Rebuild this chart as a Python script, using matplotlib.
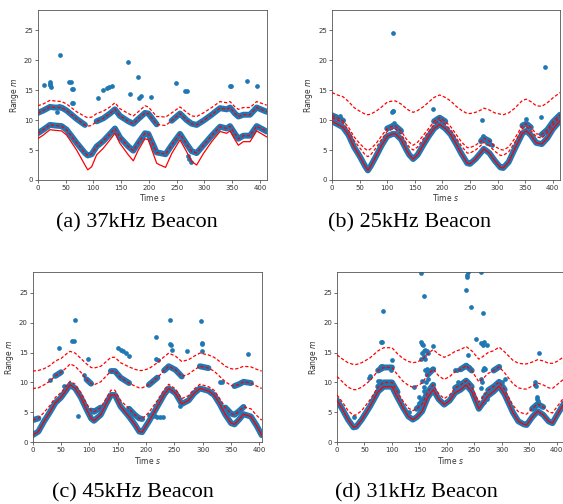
import numpy as np
import matplotlib.pyplot as plt

BLUE = '#1f77b4'

# ---------------- (a) 37kHz Beacon ----------------
a_t = [0, 10, 22, 31, 43, 52, 70, 85, 90, 97, 106, 118, 130, 139, 148, 163, 172, 181, 193, 199,
       214, 220, 230, 241, 256, 268, 277, 286, 298, 313, 328, 340, 346, 355, 361, 370, 382, 394, 412]
a_solid = [6.9, 7.5, 8.4, 8.3, 8.2, 7.5, 5.0, 2.5, 1.7, 2.2, 4.2, 5.3, 6.7, 7.8, 6.1, 4.2, 3.2, 5.0, 6.9, 6.7,
           2.8, 2.5, 2.1, 4.4, 6.7, 4.7, 3.1, 2.5, 4.4, 6.4, 8.1, 7.8, 8.2, 6.7, 5.8, 6.4, 6.4, 8.2, 7.2]
a_low = [7.8, 8.4, 9.2, 9.1, 9.0, 8.4, 6.2, 4.5, 4.1, 4.3, 5.6, 6.5, 7.7, 8.6, 7.1, 5.6, 4.9, 6.2, 7.8, 7.7,
         4.6, 4.5, 4.3, 5.8, 7.7, 6.0, 4.8, 4.5, 5.8, 7.4, 8.9, 8.6, 9.0, 7.7, 6.9, 7.4, 7.4, 9.0, 8.1]
a_mid = [11.2, 11.6, 12.2, 12.1, 12.1, 11.6, 10.2, 9.2, 9.0, 9.1, 9.8, 10.3, 11.1, 11.8, 10.7, 9.8, 9.4, 10.2, 11.2, 11.1,
         9.3, 9.2, 9.1, 9.9, 11.1, 10.0, 9.4, 9.2, 9.9, 10.9, 12.0, 11.8, 12.1, 11.1, 10.6, 10.9, 10.9, 12.1, 11.4]
a_up = [12.4, 12.7, 13.3, 13.2, 13.1, 12.7, 11.4, 10.6, 10.4, 10.5, 11.1, 11.5, 12.2, 12.9, 11.9, 11.1, 10.7, 11.4, 12.4, 12.2,
        10.6, 10.6, 10.5, 11.2, 12.2, 11.3, 10.7, 10.6, 11.2, 12.1, 13.1, 12.9, 13.1, 12.2, 11.8, 12.1, 12.1, 13.1, 12.5]
a_low_segs = [(0, 412)]
a_mid_segs = [(0, 85), (106, 214), (241, 412)]
a_out_t = [12, 22, 22, 22, 24, 40, 35, 38, 41, 46,
           57, 59, 62, 64, 62, 64, 78,
           108, 118, 125, 129, 133,
           163, 166, 181, 182, 185, 204,
           249, 265, 268, 270, 273, 276,
           346, 348, 377, 394]
a_out_v = [15.9, 16.4, 16.1, 15.8, 15.6, 20.9, 11.4, 12.3, 12.0, 8.8,
           16.3, 16.4, 15.2, 15.2, 12.9, 12.8, 5.2,
           13.7, 15.0, 15.3, 15.5, 15.7,
           19.7, 14.4, 17.2, 13.7, 14.0, 13.8,
           16.2, 14.8, 14.9, 4.0, 3.5, 3.0,
           15.7, 15.7, 16.6, 15.7]

# ---------------- (b) 25kHz Beacon ----------------
b_t = [0, 10, 20, 30, 40, 50, 60, 65, 70, 80, 90, 100, 110, 115, 125, 135, 140, 147, 155, 165,
       175, 185, 195, 205, 215, 225, 235, 245, 250, 260, 270, 275, 285, 295, 305, 310, 320, 330, 345, 352,
       360, 370, 380, 390, 400, 413]
b_solid = [9.8, 9.3, 8.8, 7.5, 5.5, 4.0, 2.3, 1.6, 2.3, 4.0, 5.8, 7.3, 7.7, 7.7, 6.8, 5.0, 4.2, 3.5, 4.2, 5.8,
           7.3, 8.6, 9.3, 8.6, 7.6, 6.0, 4.3, 2.8, 2.7, 3.5, 4.6, 5.2, 4.5, 3.2, 2.1, 2.0, 3.0, 5.0, 7.8, 8.2,
           7.5, 6.2, 6.0, 7.0, 8.5, 9.9]
b_d1 = [10.8, 10.4, 9.9, 8.8, 7.2, 6.1, 5.2, 4.9, 5.2, 6.1, 7.4, 8.6, 9.0, 9.0, 8.2, 6.8, 6.3, 5.8, 6.3, 7.4,
        8.6, 9.8, 10.4, 9.8, 8.9, 7.6, 6.3, 5.4, 5.4, 5.8, 6.5, 7.0, 6.5, 5.6, 5.1, 5.0, 5.5, 6.8, 9.1, 9.4,
        8.8, 7.7, 7.6, 8.4, 9.7, 10.9]
b_d2 = [10.4, 10.0, 9.5, 8.3, 6.6, 5.4, 4.2, 3.9, 4.2, 5.4, 6.8, 8.1, 8.5, 8.5, 7.7, 6.1, 5.5, 5.0, 5.5, 6.8,
        8.1, 9.3, 10.0, 9.3, 8.4, 7.0, 5.6, 4.5, 4.5, 5.0, 5.8, 6.3, 5.7, 4.8, 4.1, 4.1, 4.7, 6.1, 8.6, 8.9,
        8.3, 7.2, 7.0, 7.9, 9.2, 10.5]
b_d3 = [14.6, 14.2, 13.9, 13.1, 12.1, 11.5, 11.0, 10.9, 11.0, 11.5, 12.2, 13.0, 13.2, 13.2, 12.7, 11.9, 11.6, 11.3, 11.6, 12.2,
        13.0, 13.8, 14.2, 13.8, 13.2, 12.3, 11.6, 11.1, 11.1, 11.3, 11.7, 12.0, 11.7, 11.2, 11.0, 10.9, 11.2, 11.9, 13.3, 13.5,
        13.1, 12.4, 12.3, 12.9, 13.7, 14.6]
b_solid_segs = [(0, 413)]
b_d1_segs = [(0, 20), (100, 125), (185, 205), (270, 285), (345, 360), (380, 413)]
b_out_t = [15, 108, 110, 111, 110, 112, 108, 118, 123,
           183, 272, 274, 275, 280, 287, 290,
           352, 378, 385]
b_out_v = [10.7, 11.3, 11.6, 11.5, 24.6, 9.5, 9.2, 8.6, 8.2,
           11.9, 10.0, 7.3, 7.0, 6.1, 6.0, 5.8,
           10.2, 10.6, 18.8]

# ---------------- (c) 45kHz Beacon ----------------
c_t = [0, 10, 20, 30, 40, 50, 60, 66, 75, 85, 95, 103, 108, 120, 130, 138, 145, 155, 170, 180,
       188, 193, 205, 220, 232, 240, 252, 263, 275, 285, 295, 310, 320, 330, 340, 350, 356, 364, 372, 385,
       395, 404]
c_solid = [1.2, 1.8, 3.5, 5.0, 6.6, 7.5, 8.8, 9.6, 9.0, 7.5, 5.5, 4.0, 3.6, 4.6, 6.5, 7.9, 7.9, 6.0, 4.3, 3.0,
           1.8, 1.7, 3.5, 6.0, 8.0, 9.0, 8.2, 6.4, 7.0, 8.2, 9.0, 8.6, 7.9, 6.4, 4.6, 3.2, 3.0, 3.8, 4.7, 4.3,
           2.8, 1.2]
c_low = [3.7, 4.0, 5.0, 6.1, 7.5, 8.3, 9.5, 10.2, 9.7, 8.3, 6.5, 5.3, 5.1, 5.8, 7.4, 8.7, 8.7, 7.0, 5.6, 4.6,
         4.0, 3.9, 5.0, 7.0, 8.8, 9.7, 8.9, 7.3, 7.8, 8.9, 9.7, 9.3, 8.7, 7.3, 5.8, 4.8, 4.6, 5.2, 5.9, 5.6,
         4.5, 3.7]
c_mid = [9.0, 9.1, 9.6, 10.2, 11.1, 11.7, 12.5, 13.1, 12.7, 11.7, 10.5, 9.8, 9.6, 10.1, 11.1, 11.9, 11.9, 10.8, 9.9, 9.4,
         9.1, 9.1, 9.6, 10.8, 12.0, 12.7, 12.1, 11.0, 11.4, 12.1, 12.7, 12.4, 11.9, 11.0, 10.1, 9.5, 9.4, 9.7, 10.1, 9.9,
         9.4, 9.0]
c_up = [11.9, 12.0, 12.3, 12.8, 13.6, 14.0, 14.8, 15.2, 14.9, 14.0, 13.1, 12.5, 12.4, 12.7, 13.5, 14.2, 14.2, 13.3, 12.6, 12.2,
        12.0, 12.0, 12.3, 13.3, 14.3, 14.9, 14.4, 13.5, 13.8, 14.4, 14.9, 14.6, 14.2, 13.5, 12.7, 12.3, 12.2, 12.4, 12.7, 12.6,
        12.2, 11.9]
c_solid_segs = [(0, 404)]
c_low_segs = [(0, 10), (103, 120), (170, 193), (340, 372)]
c_mid_segs = [(40, 50), (95, 103), (138, 170), (205, 220), (232, 263), (295, 310), (356, 385)]
c_out_t = [30, 47, 55, 70, 73, 75, 80, 90, 97,
           150, 155, 160, 165, 170,
           205, 210, 215, 220, 225, 230,
           217, 218, 221, 242, 243, 244, 245, 260, 272,
           297, 298, 299, 299, 330, 334, 380]
c_out_v = [10.4, 15.8, 9.4, 17.0, 16.9, 20.4, 4.4, 11.2, 13.9,
           15.7, 15.4, 15.3, 15.0, 14.5,
           4.5, 4.4, 4.4, 4.3, 4.2, 4.2,
           17.6, 13.9, 13.8, 20.4, 16.5, 16.2, 15.5, 6.0, 15.3,
           20.3, 16.6, 16.5, 15.2, 10.1, 10.0, 14.8]

# ---------------- (d) 31kHz Beacon ----------------
d_t = [0, 10, 20, 30, 35, 45, 60, 75, 85, 100, 110, 120, 130, 138, 145, 155, 165, 175, 185, 195,
       205, 215, 225, 235, 245, 258, 265, 275, 285, 295, 305, 320, 330, 340, 345, 355, 365, 375, 385, 392,
       400, 413]
d_solid = [7.0, 5.5, 3.8, 2.5, 2.6, 3.8, 6.0, 8.5, 9.3, 9.3, 7.5, 5.8, 4.3, 3.8, 4.2, 5.2, 7.5, 8.8, 7.2, 6.3,
           7.0, 8.3, 8.8, 9.6, 8.5, 5.6, 6.5, 7.8, 8.5, 9.4, 8.0, 5.0, 3.5, 3.0, 2.9, 4.2, 5.2, 4.6, 3.5, 3.2,
           4.5, 6.5]
d_low = [7.9, 6.7, 5.3, 4.5, 4.6, 5.3, 7.1, 9.3, 10.0, 10.0, 8.4, 6.9, 5.7, 5.3, 5.6, 6.4, 8.4, 9.6, 8.1, 7.3,
         7.9, 9.1, 9.6, 10.3, 9.3, 6.7, 7.5, 8.7, 9.3, 10.1, 8.8, 6.2, 5.1, 4.8, 4.7, 5.6, 6.4, 5.9, 5.1, 4.9,
         5.9, 7.5]
d_mid = [11.0, 10.1, 9.2, 8.8, 8.8, 9.2, 10.3, 12.0, 12.5, 12.5, 11.3, 10.2, 9.5, 9.2, 9.4, 9.9, 11.3, 12.2, 11.1, 10.5,
         11.0, 11.8, 12.2, 12.8, 12.0, 10.1, 10.6, 11.5, 12.0, 12.6, 11.6, 9.8, 9.1, 8.9, 8.9, 9.4, 9.9, 9.6, 9.1, 9.0,
         9.6, 10.6]
d_up = [14.6, 13.9, 13.3, 13.0, 13.0, 13.3, 14.1, 15.3, 15.8, 15.8, 14.8, 14.0, 13.5, 13.3, 13.4, 13.8, 14.8, 15.5, 14.7, 14.2,
        14.6, 15.2, 15.5, 16.0, 15.3, 13.9, 14.3, 15.0, 15.3, 15.9, 15.1, 13.7, 13.2, 13.1, 13.1, 13.4, 13.8, 13.6, 13.2, 13.2,
        13.5, 14.3]
d_solid_segs = [(0, 413)]
d_low_segs = [(75, 110), (145, 175), (215, 245), (275, 305), (355, 375)]
d_mid_segs = [(75, 100), (165, 175), (225, 245), (285, 295)]
d_out_t = [30, 58, 60, 75, 78, 78, 80, 82, 80, 82, 84, 98, 100, 131, 140,
           150, 152, 150, 153, 155, 158, 162, 165, 158, 163, 168,
           153, 155, 157, 158, 160, 163, 165, 155, 158, 160, 175, 153, 160, 163, 153, 158,
           215, 218, 220, 225, 230,
           235, 237, 240, 238, 235, 237, 237, 238, 243, 253, 262, 266, 262, 265, 268, 273,
           265, 268, 270, 262, 264, 262, 265, 270, 275, 278, 268, 272,
           300, 305, 360, 361, 362, 363, 364, 365, 366, 367]
d_out_v = [4.2, 10.7, 11.1, 10.2, 10.3, 12.6, 12.7, 12.7, 16.7, 16.7, 21.9, 12.0, 13.8, 5.1, 9.2,
           6.5, 7.0, 7.5, 6.3, 10.2, 9.3, 10.0, 10.6, 8.5, 8.0, 8.8,
           16.7, 16.4, 16.2, 15.2, 15.5, 15.3, 15.0, 15.0, 14.4, 14.0, 16.1, 14.0, 12.1, 12.2, 28.3, 24.4,
           12.0, 12.1, 10.0, 9.8, 9.9,
           12.9, 12.8, 12.6, 14.6, 25.4, 28.0, 27.6, 28.4, 22.6, 17.3, 28.4, 21.6, 16.6, 16.2, 16.8, 16.3,
           12.1, 12.4, 12.2, 10.5, 10.0, 9.0, 7.5, 8.0, 8.3, 8.5, 6.8, 7.2,
           10.0, 10.6, 10.0, 9.6, 9.4, 7.5, 7.2, 6.9, 6.6, 15.0]

captions = ['(a) 37kHz Beacon', '(b) 25kHz Beacon', '(c) 45kHz Beacon', '(d) 31kHz Beacon']


def draw(ax, t, solid, dashed, bands, out_t, out_v, xmax):
    t = np.asarray(t, float)
    # dense measurement tracks
    for vals, segs in bands:
        vals = np.asarray(vals, float)
        for s0, s1 in segs:
            m = (t >= s0) & (t <= s1)
            ax.plot(t[m], vals[m], color=BLUE, lw=4.3, solid_capstyle='round',
                    solid_joinstyle='round', zorder=1)
    # scattered measurements
    ax.plot(out_t, out_v, 'o', color=BLUE, ms=3.4, mew=0, zorder=2)
    for d in dashed:
        ax.plot(t, d, color='red', lw=0.9, dashes=(2.6, 1.6), zorder=3)
    ax.plot(t, solid, color='red', lw=0.9, zorder=4)

    ax.set_xlim(0, xmax)
    ax.set_ylim(0, 28.4)
    ax.set_xticks(range(0, 401, 50))
    ax.set_yticks(range(0, 26, 5))
    ax.tick_params(labelsize=5, length=2, width=0.5, pad=1.5, colors='#333333')
    ax.set_xlabel('Time $s$', fontsize=5.5, labelpad=1, color='#333333')
    ax.set_ylabel('Range $m$', fontsize=5.5, labelpad=2, color='#333333')
    for sp in ax.spines.values():
        sp.set_linewidth(0.6)
        sp.set_color('#555555')


fig = plt.figure(figsize=(5.63, 5.04), dpi=100)

ax_a = fig.add_axes([0.0670, 0.6429, 0.4067, 0.3373])
ax_b = fig.add_axes([0.5897, 0.6429, 0.4050, 0.3373])
ax_c = fig.add_axes([0.0581, 0.1224, 0.4067, 0.3373])
ax_d = fig.add_axes([0.5986, 0.1224, 0.4032, 0.3373])

draw(ax_a, a_t, a_solid, [a_low, a_mid, a_up],
     [(a_low, a_low_segs), (a_mid, a_mid_segs)], a_out_t, a_out_v, 412)
draw(ax_b, b_t, b_solid, [b_d1, b_d2, b_d3],
     [(b_solid, b_solid_segs), (b_d1, b_d1_segs)], b_out_t, b_out_v, 413)
draw(ax_c, c_t, c_solid, [c_low, c_mid, c_up],
     [(c_solid, c_solid_segs), (c_low, c_low_segs), (c_mid, c_mid_segs)], c_out_t, c_out_v, 404)
draw(ax_d, d_t, d_solid, [d_low, d_mid, d_up],
     [(d_solid, d_solid_segs), (d_low, d_low_segs), (d_mid, d_mid_segs)], d_out_t, d_out_v, 413)

cap_xy = [(0.244, 0.5486), (0.728, 0.5486), (0.236, 0.0139), (0.739, 0.0139)]
for txt, (x, y) in zip(captions, cap_xy):
    fig.text(x, y, txt, ha='center', va='baseline', fontsize=16,
             family='Liberation Serif', color='black')

fig.savefig('out.png', dpi=100)
